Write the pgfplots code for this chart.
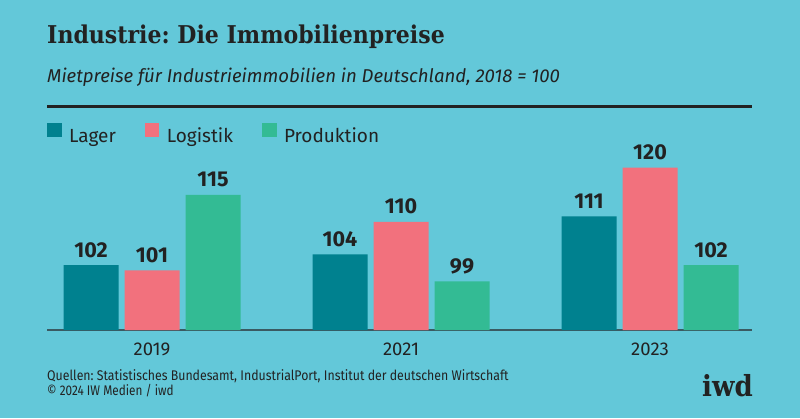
\documentclass[border=0pt]{standalone}
\usepackage{fontspec}
\usepackage{pgfplots}
\pgfplotsset{compat=1.18}
\setmainfont{Fira Sans}
\newfontfamily\titlefont[FakeStretch=0.90]{DejaVu Serif}
\newfontfamily\subfont[FakeStretch=1.0]{Fira Sans}
\newfontfamily\condfont[FakeStretch=0.88]{Fira Sans}
\newfontfamily\condfontb[FakeStretch=0.84]{Fira Sans}
\definecolor{bg}{HTML}{63C8D9}
\definecolor{lager}{HTML}{00818F}
\definecolor{logistik}{HTML}{F2717D}
\definecolor{produktion}{HTML}{33BB94}
\definecolor{txt}{HTML}{222222}
\definecolor{axiscol}{HTML}{3A5A62}
\begin{document}
\frenchspacing
\begin{tikzpicture}
\fill[bg] (0pt,0pt) rectangle (800pt,-418pt);
\node[anchor=base west, inner sep=0pt, text=txt] at (47pt,-43pt) {\titlefont\bfseries\fontsize{24.5}{28}\selectfont Industrie: Die Immobilienpreise};
\node[anchor=base west, inner sep=0pt, text=txt] at (47pt,-82pt) {\subfont\itshape\fontsize{18.6}{20}\selectfont Mietpreise für Industrieimmobilien in Deutschland, 2018 = 100};
\draw[txt, line width=3.5pt] (47pt,-106.5pt) -- (752pt,-106.5pt);
\begin{axis}[
  at={(47pt,-330pt)}, anchor=south west,
  scale only axis, width=705pt, height=189.35pt,
  xmin=-0.4217, xmax=2.4096, ymin=90, ymax=125,
  ybar=6pt, bar width=55pt,
  axis y line=none, axis x line*=bottom,
  x axis line style={draw=axiscol, line width=1.5pt, -},
  xtick={0,1,2}, xticklabels={2019,2021,2023}, major tick length=0pt,
  xticklabel style={font=\fontsize{18.5}{20}\selectfont, text=txt, anchor=base, yshift=-25pt},
  /pgf/number format/assume math mode=true,
  nodes near coords,
  every node near coord/.append style={font=\bfseries\fontsize{21.5}{24}\selectfont, text=txt, anchor=base, yshift=8pt},
  legend columns=3,
  legend image code/.code={\fill[#1] (0pt,-0.5pt) rectangle (14.5pt,13pt);},
  legend style={at={(0,1.0927)}, anchor=north west, draw=none, fill=none, inner sep=0pt,
    font=\fontsize{19}{21}\selectfont, text=txt,
    /tikz/every odd column/.append style={column sep=5.5pt},
    /tikz/every even column/.append style={column sep=27pt}},
]
\addplot[fill=lager, draw=none] coordinates {(0,102) (1,104) (2,111)};
\addplot[fill=logistik, draw=none] coordinates {(0,101) (1,110) (2,120)};
\addplot[fill=produktion, draw=none] coordinates {(0,115) (1,99) (2,102)};
\legend{Lager, Logistik, Produktion}
\end{axis}
\node[anchor=base west, inner sep=0pt, text=txt] at (47pt,-380pt) {\condfont\fontsize{14}{16}\selectfont Quellen: Statistisches Bundesamt, IndustrialPort, Institut der deutschen Wirtschaft};
\node[anchor=base west, inner sep=0pt, text=txt] at (47pt,-395pt) {\condfontb\fontsize{14}{16}\selectfont © 2024 IW Medien / iwd};
\node[anchor=base east, inner sep=0pt, text=txt] at (753pt,-396pt) {\titlefont\bfseries\fontsize{29}{32}\selectfont iwd};
\pgfresetboundingbox
\path[use as bounding box] (0pt,0pt) rectangle (800pt,-418pt);
\end{tikzpicture}
\end{document}
